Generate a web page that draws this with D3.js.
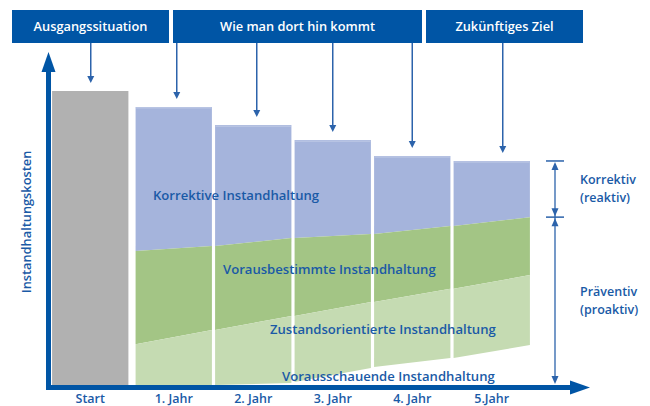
<!DOCTYPE html>
<html lang="de">
<head>
<meta charset="utf-8">
<title>Instandhaltungskosten</title>
<script src="https://cdn.jsdelivr.net/npm/d3@7"></script>
<style>
  body { margin: 0; background: #fff; }
  text { font-family: "Open Sans", sans-serif; font-weight: 600; }
</style>
</head>
<body>
<script>
// categories along the x axis
var categories = ["Start", "1. Jahr", "2. Jahr", "3. Jahr", "4. Jahr", "5.Jahr"];
// total cost per bar (Start = 100)
var totalCost = [100, 94.6, 88.4, 83.3, 77.9, 76.2];
// upper edge of the "Vorausbestimmte" layer, [left, right] of each bar
var vorbestimmtTop = [null, [45.6, 47.3], [47.3, 50.0], [50.0, 51.4], [51.4, 54.1], [54.1, 57.1]];
// upper edge of the "Zustandsorientierte" layer
var zustandTop = [null, [13.9, 18.7], [18.7, 23.5], [23.5, 28.2], [28.2, 32.7], [32.7, 37.4]];
// lower edge of the bars
var barBase = [null, [0, 0], [0, 0.7], [1.0, 5.8], [6.1, 9.2], [9.2, 13.6]];

var headers = ["Ausgangssituation", "Wie man dort hin kommt", "Zukünftiges Ziel"];
var layerLabels = ["Korrektive Instandhaltung", "Vorausbestimmte Instandhaltung",
                   "Zustandsorientierte Instandhaltung", "Vorausschauende Instandhaltung"];
var sideLabels = [["Korrektiv", "(reaktiv)"], ["Präventiv", "(proaktiv)"]];
var yTitle = "Instandhaltungskosten";

var w = 650, h = 406;
var blue = "#0055a5";
var textBlue = "#1a5aa6";
var arrowBlue = "#2c63ab";
var colors = { start: "#b1b1b1", korr: "#a5b4dc", vorb: "#a3c585", zust: "#c5dbb2" };

var svg = d3.select("body").append("svg")
    .attr("width", w)
    .attr("height", h);

var x = d3.scaleBand()
    .domain(categories)
    .range([54.5, 531.5])
    .paddingInner(0.04)
    .paddingOuter(0.02);

// the start bar sits a little further left than the yearly bars
var startShift = -4;
function bx0(c, i) { return x(c) + (i === 0 ? startShift : 0); }
function bcx(c, i) { return bx0(c, i) + x.bandwidth() / 2; }

var y = d3.scaleLinear()
    .domain([0, 100])
    .range([385, 91]);

function quad(x0, x1, topL, topR, botR, botL) {
    return "M" + x0 + "," + y(topL) + "L" + x1 + "," + y(topR) +
           "L" + x1 + "," + y(botR) + "L" + x0 + "," + y(botL) + "Z";
}

// bars
categories.forEach(function(c, i) {
    var x0 = bx0(c, i), x1 = x0 + x.bandwidth();
    if (i === 0) {
        svg.append("rect")
            .attr("x", x0).attr("y", y(totalCost[0]))
            .attr("width", x.bandwidth())
            .attr("height", y(0) - y(totalCost[0]))
            .attr("fill", colors.start);
        return;
    }
    var t = totalCost[i], v = vorbestimmtTop[i], z = zustandTop[i], b = barBase[i];
    svg.append("path").attr("d", quad(x0, x1, t, t, v[1], v[0])).attr("fill", colors.korr);
    svg.append("path").attr("d", quad(x0, x1, v[0], v[1], z[1], z[0])).attr("fill", colors.vorb);
    svg.append("path").attr("d", quad(x0, x1, z[0], z[1], b[1], b[0])).attr("fill", colors.zust);
    svg.append("rect")
        .attr("x", x0 + 0.5).attr("y", y(t) + 0.5)
        .attr("width", x.bandwidth() - 1).attr("height", 1)
        .attr("fill", "#ffffff").attr("opacity", 0.35);
});

// layer labels
var layerPos = [[153, 195], [223, 269], [270, 329], [282, 376]];
svg.selectAll("text.layer")
    .data(layerLabels)
    .enter()
    .append("text")
    .attr("class", "layer")
    .attr("x", function(d, i) { return layerPos[i][0]; })
    .attr("y", function(d, i) { return layerPos[i][1]; })
    .attr("dy", "0.35em")
    .attr("font-size", "13.1px")
    .attr("fill", textBlue)
    .text(function(d) { return d; });

// axes
svg.append("rect").attr("x", 46).attr("y", 68).attr("width", 5).attr("height", 322).attr("fill", blue);
svg.append("path").attr("d", "M48.5,52L55.5,72L41.5,72Z").attr("fill", blue);
svg.append("rect").attr("x", 46).attr("y", 385).attr("width", 528).attr("height", 5).attr("fill", blue);
svg.append("path").attr("d", "M590,387.5L570,380.5L570,394.5Z").attr("fill", blue);

// tick labels
svg.selectAll("text.tick")
    .data(categories)
    .enter()
    .append("text")
    .attr("class", "tick")
    .attr("x", function(d, i) { return bcx(d, i); })
    .attr("y", 399)
    .attr("dy", "0.35em")
    .attr("text-anchor", "middle")
    .attr("font-size", "12.5px")
    .attr("fill", textBlue)
    .text(function(d) { return d; });

// y title
svg.append("text")
    .attr("transform", "translate(27,222) rotate(-90)")
    .attr("dy", "0.35em")
    .attr("text-anchor", "middle")
    .attr("font-size", "12.8px")
    .attr("fill", textBlue)
    .text(yTitle);

// header boxes
var boxes = [[12, 169], [173, 422], [426, 583]];
headers.forEach(function(d, i) {
    svg.append("rect")
        .attr("x", boxes[i][0]).attr("y", 10)
        .attr("width", boxes[i][1] - boxes[i][0]).attr("height", 33)
        .attr("fill", blue);
    svg.append("text")
        .attr("x", (boxes[i][0] + boxes[i][1]) / 2).attr("y", 26.5)
        .attr("dy", "0.35em")
        .attr("text-anchor", "middle")
        .attr("font-size", "12.8px")
        .attr("fill", "#ffffff")
        .text(d);
});

// arrows from headers to bars
var arrowDx = [0.5, 3, 3.5, 0, 0, 11];
categories.forEach(function(c, i) {
    var ax = bcx(c, i) + arrowDx[i];
    var tip = y(totalCost[i]) - 8;
    svg.append("line")
        .attr("x1", ax).attr("x2", ax)
        .attr("y1", 43).attr("y2", tip - 5)
        .attr("stroke", arrowBlue).attr("stroke-width", 1.5);
    svg.append("path")
        .attr("d", "M" + ax + "," + tip + "L" + (ax + 3.5) + "," + (tip - 7) + "L" + (ax - 3.5) + "," + (tip - 7) + "Z")
        .attr("fill", arrowBlue);
});

// bracket on the right
var bx = 555;
var bTop = y(totalCost[5]), bMid = y(vorbestimmtTop[5][1]), bBot = y(0) - 1;
function arrowHead(px, py, dir) {
    svg.append("path")
        .attr("d", "M" + px + "," + py + "L" + (px + 3.5) + "," + (py + dir * 8) + "L" + (px - 3.5) + "," + (py + dir * 8) + "Z")
        .attr("fill", arrowBlue);
}
[bTop, bMid].forEach(function(yy) {
    svg.append("line")
        .attr("x1", bx - 9).attr("x2", bx + 9)
        .attr("y1", yy).attr("y2", yy)
        .attr("stroke", arrowBlue).attr("stroke-width", 1.5);
});
svg.append("line")
    .attr("x1", bx).attr("x2", bx)
    .attr("y1", bTop + 4).attr("y2", bBot - 4)
    .attr("stroke", arrowBlue).attr("stroke-width", 1.3);
arrowHead(bx, bTop + 1, 1);
arrowHead(bx, bMid - 1, -1);
arrowHead(bx, bMid + 1, 1);
arrowHead(bx, bBot, -1);

// side labels
var sideY = [y((totalCost[5] + vorbestimmtTop[5][1]) / 2), y(vorbestimmtTop[5][1] / 2)];
sideLabels.forEach(function(pair, i) {
    pair.forEach(function(s, j) {
        svg.append("text")
            .attr("x", 580)
            .attr("y", sideY[i] - 9 + j * 18)
            .attr("dy", "0.35em")
            .attr("font-size", "12.5px")
            .attr("fill", textBlue)
            .text(s);
    });
});
</script>
</body>
</html>
